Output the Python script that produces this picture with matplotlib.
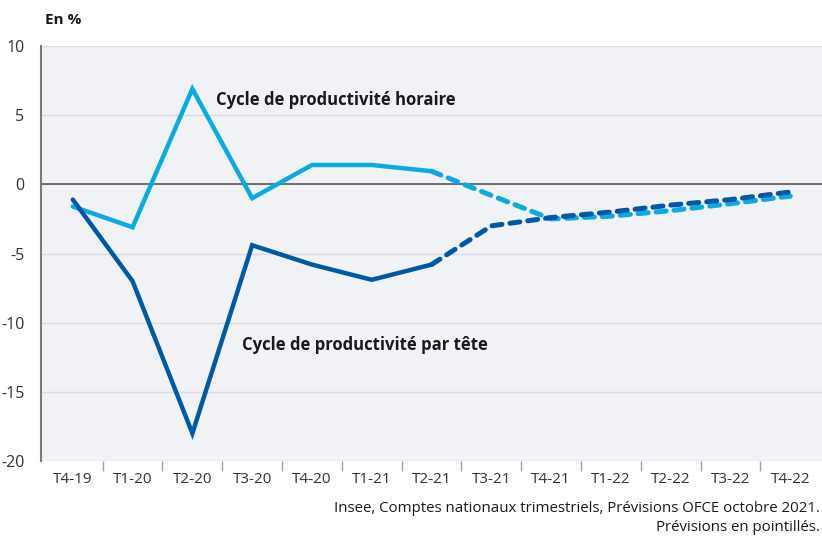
import matplotlib.pyplot as plt
import numpy as np

plt.rcParams['font.family'] = ['Open Sans', 'DejaVu Sans']

quarters = ["T4-19", "T1-20", "T2-20", "T3-20", "T4-20", "T1-21", "T2-21",
            "T3-21", "T4-21", "T1-22", "T2-22", "T3-22", "T4-22"]
horaire = [-1.6, -3.1, 6.9, -1.0, 1.4, 1.4, 0.95,
           -0.8, -2.5, -2.3, -1.9, -1.4, -0.85]
par_tete = [-1.1, -7.0, -18.0, -4.4, -5.8, -6.9, -5.8,
            -3.0, -2.4, -2.0, -1.5, -1.1, -0.55]
last_obs = 6  # T2-21: last observed quarter, forecasts after

LIGHT = "#0AAAE2"
DARK = "#0058A8"

fig = plt.figure(figsize=(8.22, 5.37), dpi=100)
ax = fig.add_axes([0.05, 0.1415, 0.95, 0.7728])
ax.set_facecolor("#F0F2F5")

x = np.arange(len(quarters))
for vals, col in [(horaire, LIGHT), (par_tete, DARK)]:
    ax.plot(x[:last_obs + 1], vals[:last_obs + 1], color=col, lw=3.2,
            solid_capstyle="round", solid_joinstyle="miter", zorder=3)
    ax.plot(x[last_obs:], vals[last_obs:], color=col, lw=3.6,
            ls=(0, (2.0, 1.6)), dash_capstyle="round", zorder=3)

ax.set_ylim(-20, 10)
ax.set_xlim(-0.53, len(quarters) - 0.47)
ax.set_yticks([10, 5, 0, -5, -10, -15, -20])
ax.set_yticklabels(["10", "5", "0", "-5", "-10", "-15", "-20"])
ax.grid(axis="y", color="#D9DADD", lw=1)
ax.axhline(0, color="#6E6E6E", lw=1.4, zorder=2)
ax.set_axisbelow(True)

ax.set_xticks(x)
ax.set_xticklabels(quarters)
ax.set_xticks(np.arange(len(quarters) - 1) + 0.5, minor=True)
ax.tick_params(axis="x", which="major", length=0, pad=8, labelsize=11, colors="#333333")
ax.tick_params(axis="x", which="minor", length=7, color="#A0A0A0", width=1)
ax.tick_params(axis="y", length=0, pad=12, labelsize=11.5, colors="#333333")

for s in ["top", "right", "bottom"]:
    ax.spines[s].set_visible(False)
ax.spines["left"].set_color("#7A7A7A")
ax.spines["left"].set_linewidth(1.5)

ax.text(2.4, 6.1, "Cycle de productivité horaire", fontsize=12,
        fontweight="bold", color="#1A1A1A", va="center")
ax.text(2.83, -11.6, "Cycle de productivité par tête", fontsize=12,
        fontweight="bold", color="#1A1A1A", va="center")

fig.text(0.055, 0.963, "En %", fontsize=11, fontweight="bold", color="#1A1A1A", va="center")
fig.text(0.997, 0.054, "Insee, Comptes nationaux trimestriels, Prévisions OFCE octobre 2021.",
         fontsize=10.8, ha="right", va="center", color="#1A1A1A")
fig.text(0.997, 0.017, "Prévisions en pointillés.",
         fontsize=10.8, ha="right", va="center", color="#1A1A1A")

fig.savefig("out.png", dpi=100)
